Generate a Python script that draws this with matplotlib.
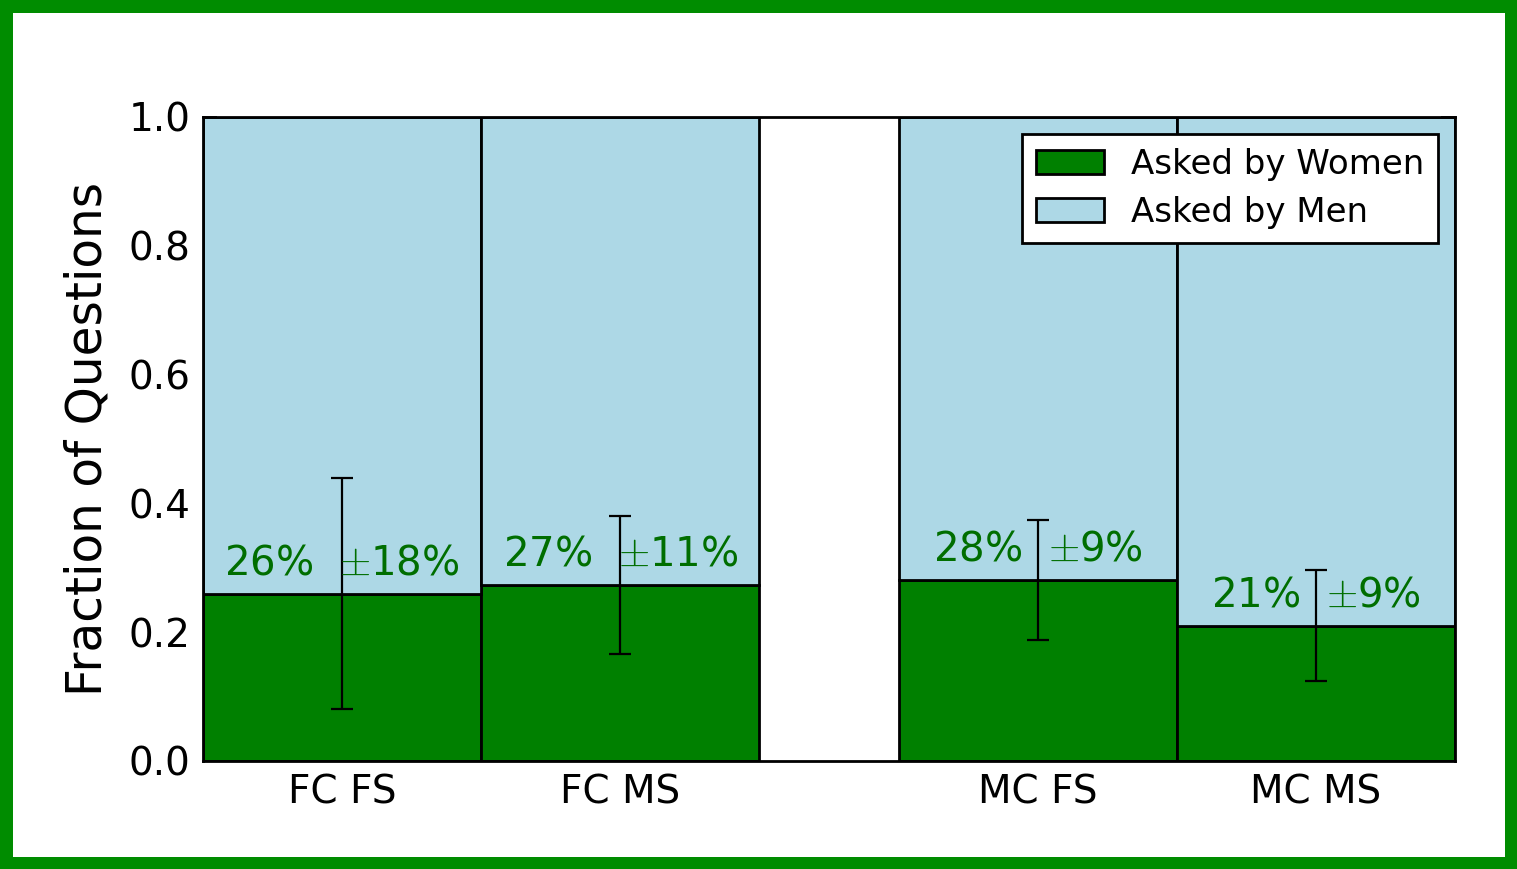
import matplotlib
matplotlib.use("Agg")
import matplotlib.pyplot as plt
import numpy as np

plt.rcParams['mathtext.fontset'] = 'cm'
plt.rcParams['font.family'] = 'DejaVu Sans'

# datos
groups = ["FC FS", "FC MS", "MC FS", "MC MS"]
women = [0.26, 0.273, 0.281, 0.21]
err = [0.18, 0.107, 0.093, 0.086]
pct_labels = ["26%", "27%", "28%", "21%"]
err_labels = ["18%", "11%", "9%", "9%"]
pos = [0.5, 1.5, 3.0, 4.0]

men = [1 - w for w in women]

fig = plt.figure(figsize=(15.17, 8.69), dpi=100)
fig.patch.set_edgecolor('#008c00')
fig.patch.set_linewidth(18)
ax = fig.add_axes([0.1338, 0.1243, 0.8253, 0.7411])

ax.bar(pos, women, width=1.0, color='green', edgecolor='black', linewidth=2,
       label='Asked by Women', zorder=2)
ax.bar(pos, men, width=1.0, bottom=women, color='lightblue', edgecolor='black',
       linewidth=2, label='Asked by Men', zorder=2)
ax.errorbar(pos, women, yerr=err, fmt='none', ecolor='black', elinewidth=1.6,
            capsize=8, capthick=1.6, zorder=3)

for x, w, p, e in zip(pos, women, pct_labels, err_labels):
    ax.text(x, w + 0.016, p + "  $\\pm$" + e, ha='center', va='bottom',
            color='#006e00', fontsize=29, zorder=4)

ax.set_xlim(0, 4.5)
ax.set_ylim(0, 1.0)
ax.set_xticks(pos)
ax.set_xticklabels(groups)
ax.set_yticks(np.arange(0, 1.01, 0.2))
ax.set_yticklabels(["%.1f" % v for v in np.arange(0, 1.01, 0.2)])
ax.tick_params(direction='in', length=10, width=1.2, labelsize=28,
               top=True, right=True, pad=9)
for s in ax.spines.values():
    s.set_linewidth(2)
ax.set_ylabel("Fraction of Questions", fontsize=35, labelpad=12)

leg = ax.legend(loc='upper right', fontsize=24.5, fancybox=False, framealpha=1,
                edgecolor='black', handlelength=2.0, handleheight=0.7,
                borderaxespad=0.5, labelspacing=0.45, handletextpad=0.8,
                borderpad=0.4)
leg.get_frame().set_linewidth(2)

fig.savefig("out.png", dpi=100, edgecolor=fig.get_edgecolor())
